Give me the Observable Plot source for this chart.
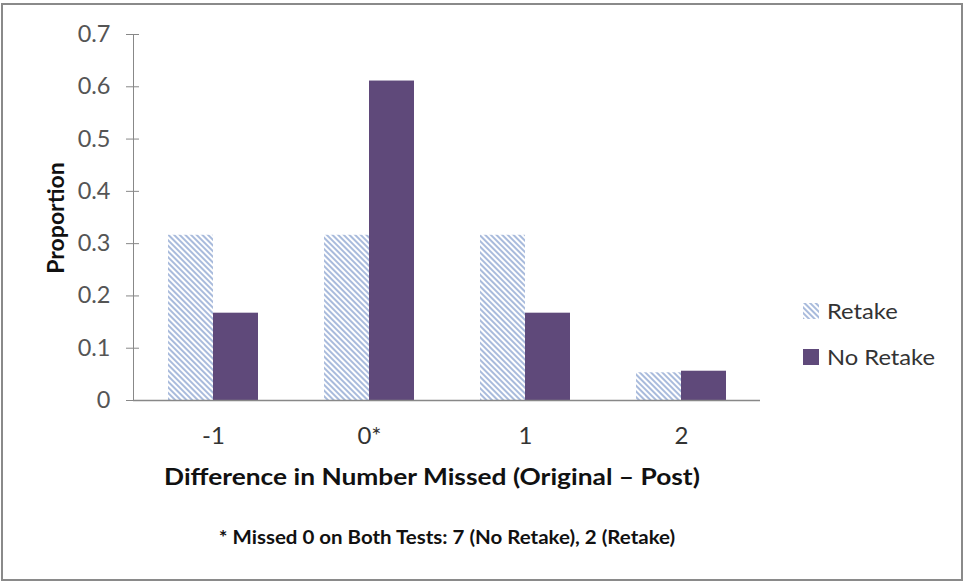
<!DOCTYPE html>
<html><head><meta charset="utf-8">
<script src="https://cdn.jsdelivr.net/npm/d3@7"></script>
<script src="https://cdn.jsdelivr.net/npm/@observablehq/plot@0.6"></script>
<style>
body{margin:0;background:#fff;}
#wrap{position:relative;width:964px;height:582px;overflow:hidden;font-family:Lato,"Open Sans",sans-serif;}
#border{position:absolute;left:1px;top:3px;width:958px;height:574px;border:2px solid #8a8a8a;}
#chart{position:absolute;left:0;top:0;}
.t{position:absolute;white-space:nowrap;}
#ytitle{left:55px;top:218px;transform:translate(-50%,-50%) rotate(-90deg);font-weight:700;font-size:23px;color:#111;}
#xtitle{left:432px;top:476px;transform:translate(-50%,-50%) scaleX(1.12);font-weight:700;font-size:23.5px;color:#111;}
#note{left:447px;top:537px;transform:translate(-50%,-50%) scaleX(1.12);font-weight:700;font-size:18.3px;color:#111;}
.leg{position:absolute;left:803px;display:flex;align-items:center;font-size:21px;color:#333;}
.leg span{display:inline-block;transform-origin:left center;transform:scaleX(1.13);}
.sw{width:16px;height:16px;margin-right:8px;}
</style></head>
<body>
<div id="wrap">
  <div id="border"></div>
  <div id="chart"></div>
  <div class="t" id="ytitle">Proportion</div>
  <div class="t" id="xtitle">Difference in Number Missed (Original – Post)</div>
  <div class="t" id="note">* Missed 0 on Both Tests: 7 (No Retake), 2 (Retake)</div>
  <div class="leg" style="top:298px"><svg class="sw" width="16" height="16"><rect width="16" height="16" fill="url(#hatchL)"/><defs><pattern id="hatchL" width="4" height="4" patternUnits="userSpaceOnUse" patternTransform="rotate(-45)"><rect width="4" height="4" fill="#fff"/><rect width="2" height="4" fill="#a9bbdc"/></pattern></defs></svg><span>Retake</span></div>
  <div class="leg" style="top:344px"><div class="sw" style="background:#5f497a"></div><span>No Retake</span></div>
</div>
<script>
const categories = ["-1", "0*", "1", "2"];
const seriesNames = ["Retake", "No Retake"];
const retake = [0.316, 0.316, 0.316, 0.053];
const noRetake = [0.167, 0.611, 0.167, 0.056];
const yTicks = [0, 0.1, 0.2, 0.3, 0.4, 0.5, 0.6, 0.7];

const rows = [];
categories.forEach((c, i) => {
  rows.push({cat: c, series: seriesNames[0], value: retake[i]});
  rows.push({cat: c, series: seriesNames[1], value: noRetake[i]});
});

const chart = Plot.plot({
  width: 964,
  height: 582,
  marginLeft: 133,
  marginRight: 204,
  marginTop: 34,
  marginBottom: 182,
  style: {fontFamily: "Lato, 'Open Sans', sans-serif", background: "transparent"},
  x: {domain: categories, paddingInner: 0.426, paddingOuter: 0.213, label: null},
  y: {domain: [0, 0.7], ticks: yTicks, label: null},
  marks: [
    Plot.barY(rows.filter(d => d.series === "Retake"), {x: "cat", y: "value", fill: "url(#hatch)", insetLeft: 0, insetRight: 45}),
    Plot.barY(rows.filter(d => d.series === "No Retake"), {x: "cat", y: "value", fill: "#5f497a", insetLeft: 45, insetRight: 0}),
    Plot.axisY({ticks: yTicks, tickSize: 7, tickPadding: 16, tickFormat: d => String(d), fontSize: 23.5, color: "#555", stroke: "#888", label: null}),
    Plot.axisY({ticks: yTicks, tickSize: -6, text: null, stroke: "#888", label: null}),
    Plot.axisX({tickSize: 0, tickPadding: 26, fontSize: 24, color: "#333", label: null}),
    Plot.ruleY([0], {stroke: "#888", strokeWidth: 1.5}),
    Plot.frame({anchor: "left", stroke: "#888"})
  ]
});
const ns = "http://www.w3.org/2000/svg";
const defs = document.createElementNS(ns, "defs");
defs.innerHTML = '<pattern id="hatch" width="4" height="4" patternUnits="userSpaceOnUse" patternTransform="rotate(-45)"><rect width="4" height="4" fill="#fff"/><rect width="2" height="4" fill="#a9bbdc"/></pattern>';
chart.insertBefore(defs, chart.firstChild);
document.getElementById("chart").appendChild(chart);
</script>
</body></html>
